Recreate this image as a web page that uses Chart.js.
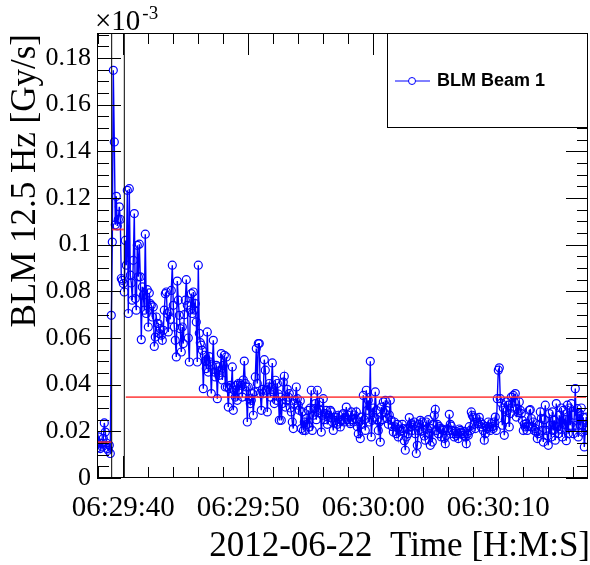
<!DOCTYPE html>
<html>
<head>
<meta charset="utf-8">
<script src="https://cdn.jsdelivr.net/npm/chart.js@4.4.1/dist/chart.umd.min.js"></script>
<style>
  html, body { margin: 0; padding: 0; background: #fff; }
  #wrap { width: 590px; height: 565px; }
</style>
</head>
<body>
<div id="wrap"><canvas id="blmChart" width="590" height="565"></canvas></div>
<script>
// time is counted in seconds after 06:29:00 (2012-06-22)
const firstSample = 37.92;
const sampleRate = 12.5;

// BLM Beam 1 read-out, in units of 1e-4 of the axis value
const beam1 = [
  130,176,150,126,149,133,170,236,197,150,126,119,140,105,
  697,1011,1747,1440,1085,1207,1080,1108,1162,1108,855,847,833,797,
  1018,912,1233,705,1240,869,836,762,933,1133,
  769,719,997,862,1002,862,593,819,783,719,
  1045,705,807,647,793,747,740,690,733,564,
  604,690,662,662,619,640,612,590,633,719,
  790,797,705,626,712,680,804,912,740,647,
  590,519,844,762,697,640,540,647,576,700,
  762,850,740,600,497,720,790,705,797,720,
  747,669,497,912,620,580,
  569,547,383,526,500,469,626,454,520,497,
  362,480,590,454,433,483,340,476,440,462,
  533,420,483,526,390,519,390,304,383,397,
  390,476,290,376,347,397,333,405,380,405,
  397,347,420,501,405,390,240,390,340,319,
  333,362,269,369,433,555,405,576,576,362,
  290,380,362,507,462,376,283,390,405,347,
  390,493,369,319,419,333,405,360,247,347,
  247,319,411,436,304,333,380,347,362,300,
  283,240,212,319,333,390,340,312,290,330,
  212,283,204,240,204,255,230,290,219,300,
  376,204,269,297,319,250,376,280,326,290,
  197,269,340,250,276,290,230,269,260,290,
  283,240,204,260,247,261,230,269,240,219,
  247,270,276,240,261,304,250,269,240,233,
  283,250,240,270,255,283,220,190,240,169,
  261,230,354,250,204,376,290,333,240,500,
  176,247,300,261,369,290,250,204,240,154,
  304,250,326,280,333,290,255,230,270,333,
  247,220,197,240,219,190,230,176,210,200,
  204,230,212,160,119,176,212,190,259,220,
  233,204,226,240,190,105,140,204,230,247,
  200,240,204,180,162,240,210,250,190,140,
  212,154,230,269,294,204,230,190,220,212,
  176,210,204,170,147,183,210,204,273,230,
  222,204,190,176,200,183,190,169,210,204,
  197,190,183,200,176,147,190,183,220,204,
  283,269,261,230,212,255,240,233,260,240,
  219,230,204,162,190,220,212,240,219,204,
  233,220,212,240,261,204,340,462,472,340,
  321,226,300,183,250,326,290,312,219,276,
  347,300,354,326,362,261,297,280,326,290,
  276,247,204,230,219,233,204,220,290,293,
  255,219,240,204,212,197,169,190,230,283,
  255,204,154,250,312,204,180,140,276,226,
  176,283,204,247,162,319,219,190,269,210,
  300,176,290,230,250,160,312,190,300,226,
  319,219,190,269,383,226,297,176,276,226,
  300,197,260,133,204,261,220
];

// mean levels (red) and the cut times (black verticals)
const meanStart = [37.9, 39.1, 40.2];
const meanEnd = [39.05, 40.05, 77.02];
const meanLevel = [0.0154, 0.1065, 0.0347];
const cutTimes = [39.07, 40.08];

const xMin = 37.896, xMax = 77.176;
const yMin = 0, yMax = 0.1907;

const serif = '"Liberation Serif", "Times New Roman", serif';

function hms(sec) {
  const total = 6 * 3600 + 29 * 60 + Math.round(sec);
  const h = Math.floor(total / 3600), m = Math.floor(total / 60) % 60, s = total % 60;
  return [h, m, s].map(n => String(n).padStart(2, '0')).join(':');
}

const beamPoints = beam1.map((v, i) => ({ x: firstSample + i / sampleRate, y: v / 1e4 }));

// higher "order" is drawn first, so the red and black lines sit on top of the data
const datasets = [{
  label: 'BLM Beam 1',
  data: beamPoints,
  order: 5,
  borderColor: '#0000ff',
  borderWidth: 1.4,
  pointRadius: 4,
  pointBorderWidth: 1.2,
  pointBorderColor: '#0000ff',
  pointBackgroundColor: 'rgba(0,0,0,0)',
  tension: 0
}];
meanLevel.forEach((lvl, k) => {
  datasets.push({
    label: 'mean',
    data: [{ x: meanStart[k], y: lvl }, { x: meanEnd[k], y: lvl }],
    order: 1,
    borderColor: 'rgba(255,40,40,0.8)',
    borderWidth: 1.8,
    pointRadius: 0
  });
});
cutTimes.forEach(t => {
  datasets.push({
    label: 'cut',
    data: [{ x: t, y: yMin }, { x: t, y: yMax }],
    order: 2,
    borderColor: '#000000',
    borderWidth: 1,
    pointRadius: 0
  });
});

const rootFrame = {
  id: 'rootFrame',
  afterDraw(chart) {
    const { ctx, chartArea: a, scales: { x, y } } = chart;
    const line = (x1, y1, x2, y2) => { ctx.beginPath(); ctx.moveTo(x1, y1); ctx.lineTo(x2, y2); ctx.stroke(); };
    ctx.save();
    ctx.strokeStyle = '#000';
    ctx.lineWidth = 1;

    // ticks, major every 10 s / 0.02, minor every 2 s / 0.005
    for (let s = 38; s <= xMax; s += 2) {
      const px = Math.round(x.getPixelForValue(s)) + 0.5;
      const len = s % 10 === 0 ? 22 : 11;
      line(px, a.bottom, px, a.bottom - len);
      line(px, a.top, px, a.top + len);
    }
    for (let k = 0; k * 0.005 <= yMax; k++) {
      const py = Math.round(y.getPixelForValue(k * 0.005)) + 0.5;
      const major = k % 4 === 0;
      line(a.left, py, a.left + (major ? 24 : 12), py);
      line(a.right, py, a.right - (major ? 22 : 11), py);
    }
    ctx.strokeRect(a.left + 0.5, a.top + 0.5, a.right - a.left - 1, a.bottom - a.top - 1);

    // legend box
    const lx = a.right - 201, ly = a.top, lw = 201, lh = 95;
    ctx.fillStyle = '#fff';
    ctx.fillRect(lx, ly, lw, lh);
    ctx.strokeRect(lx + 0.5, ly + 0.5, lw - 1, lh - 1);
    ctx.strokeStyle = '#0000ff';
    line(lx + 8, ly + 48, lx + 43, ly + 48);
    ctx.beginPath();
    ctx.arc(lx + 25, ly + 48, 3.5, 0, Math.PI * 2);
    ctx.fillStyle = '#fff';
    ctx.fill();
    ctx.stroke();
    ctx.fillStyle = '#000';
    ctx.font = 'bold 18px "Liberation Sans", Arial, sans-serif';
    ctx.textBaseline = 'middle';
    ctx.textAlign = 'left';
    ctx.fillText('BLM Beam 1', lx + 50, ly + 48);

    // exponent label
    ctx.textBaseline = 'alphabetic';
    ctx.font = '29px ' + serif;
    ctx.fillText('\u00d710', 95, 29.5);
    const w = ctx.measureText('\u00d710').width;
    ctx.font = '19px ' + serif;
    ctx.fillText('-3', 95 + w + 2, 19);

    // axis titles
    ctx.font = '35px ' + serif;
    ctx.textAlign = 'right';
    ctx.fillText('2012-06-22  Time [H:M:S]', 590, 556);
    ctx.translate(35, a.top + 1);
    ctx.rotate(-Math.PI / 2);
    ctx.fillText('BLM 12.5 Hz [Gy/s]', 0, 0);
    ctx.restore();
  }
};

new Chart(document.getElementById('blmChart'), {
  type: 'line',
  data: { datasets },
  plugins: [rootFrame],
  options: {
    responsive: false,
    animation: false,
    devicePixelRatio: 1,
    events: [],
    layout: { autoPadding: false, padding: { top: 33, right: 2, left: 0, bottom: 0 } },
    plugins: { legend: { display: false }, tooltip: { enabled: false } },
    scales: {
      x: {
        type: 'linear',
        min: xMin,
        max: xMax,
        afterFit: s => { s.height = 87; s.paddingLeft = 0; s.paddingRight = 0; },
        grid: { display: false, drawTicks: false },
        border: { display: false },
        ticks: {
          stepSize: 10,
          includeBounds: false,
          autoSkip: false,
          maxRotation: 0,
          padding: 13,
          color: '#000',
          font: { family: serif, size: 29 },
          callback: v => hms(v)
        }
      },
      y: {
        type: 'linear',
        min: yMin,
        max: yMax,
        afterFit: s => { s.width = 97; s.paddingTop = 0; s.paddingBottom = 0; },
        grid: { display: false, drawTicks: false },
        border: { display: false },
        ticks: {
          stepSize: 0.02,
          includeBounds: false,
          padding: 6,
          color: '#000',
          font: { family: serif, size: 26 },
          callback: v => (v === 0 ? '0' : String(+v.toFixed(2)))
        }
      }
    }
  }
});
</script>
</body>
</html>
